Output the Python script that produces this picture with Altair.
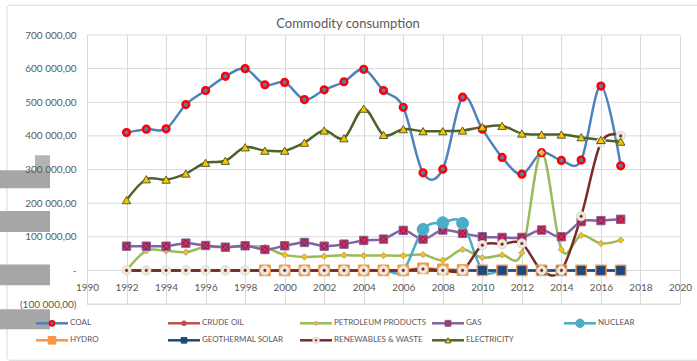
import altair as alt
import pandas as pd

years = list(range(1992, 2018))
x_ticks = list(range(1990, 2021, 2))
y_ticks = list(range(-100000, 700001, 100000))

series_names = ["COAL", "CRUDE OIL", "PETROLEUM PRODUCTS", "GAS", "NUCLEAR",
                "HYDRO", "GEOTHERMAL SOLAR", "RENEWABLES & WASTE", "ELECTRICITY"]

# None = empty cell (plotted as zero by the line, no marker)
coal = [410000, 420000, 421000, 493000, 535000, 577000, 600000, 552000, 559000, 508000,
        537000, 561000, 598000, 535000, 485000, 290000, 301000, 515000, 420000, 336000,
        286000, 350000, 327000, 328000, 548000, 311000]
crude_oil = [None] * 26
petroleum = [0, 58000, 58000, 54000, 70000, 68000, 72000, 68000, 46000, 40000,
             42000, 45000, 44000, 44000, 44000, 47000, 30000, 62000, 38000, 46000,
             52000, 350000, 62000, 104000, 80000, 90000]
gas = [72000, 72000, 72000, 81000, 74000, 69000, 73000, 62000, 73000, 83000,
       72000, 78000, 89000, 93000, 119000, 93000, 120000, 110000, 100000, 98000,
       98000, 120000, 100000, 145000, 148000, 152000]
nuclear = [None] * 15 + [122000, 142000, 140000] + [None] * 8
hydro = [None] * 7 + [0] * 8 + [6000, 3000, 1000] + [0] * 8
geothermal = [None] * 18 + [0] * 8
renewables = [0] * 15 + [4000, 0, 0] + [75000, 78000, 80000, 0, 0, 161000, 380000, 400000]
electricity = [209000, 271000, 270000, 288000, 320000, 326000, 366000, 356000, 356000, 380000,
               416000, 393000, 481000, 403000, 420000, 414000, 414000, 416000, 426000, 430000,
               407000, 404000, 404000, 396000, 388000, 383000]

values = dict(zip(series_names, [coal, crude_oil, petroleum, gas, nuclear, hydro,
                                  geothermal, renewables, electricity]))

legend_col = [0, 1, 2, 3, 4, 0, 1, 2, 3]
legend_row = [0, 0, 0, 0, 0, 1, 1, 1, 1]
title_text = "Commodity consumption"

line_colors = {
    "COAL": "#4F81BD", "CRUDE OIL": "#C0504D", "PETROLEUM PRODUCTS": "#9BBB59",
    "GAS": "#8064A2", "NUCLEAR": "#4BACC6", "HYDRO": "#F79646",
    "GEOTHERMAL SOLAR": "#1F497D", "RENEWABLES & WASTE": "#772C2A", "ELECTRICITY": "#4F6228",
}
# marker styles: list of (shape, fill, stroke, strokeWidth, size)
marker_styles = {
    "COAL": [("circle", "#4F81BD", "#FF0000", 2.5, 45)],
    "CRUDE OIL": [("circle", "#C0504D", "#C0504D", 1, 45)],
    "PETROLEUM PRODUCTS": [("diamond", "#FFC000", "#A5A5A5", 1, 40)],
    "GAS": [("square", "#C0143C", "#8064A2", 1, 70),
            ("M-1,-1L1,1M-1,1L1,-1", "#8064A2", "#8064A2", 1, 40)],
    "NUCLEAR": [("circle", "#4BACC6", "#4BACC6", 1, 140)],
    "HYDRO": [("square", "#F79646", "#F79646", 1, 115)],
    "GEOTHERMAL SOLAR": [("square", "#1F497D", "#1F497D", 1, 64)],
    "RENEWABLES & WASTE": [("circle", "#EEECE1", "#DDD9C3", 1, 85),
                           ("circle", "#772C2A", "#772C2A", 0.5, 7)],
    "ELECTRICITY": [("triangle-up", "#FFC000", "#4F6228", 1, 70)],
}

W, H = 593, 269
FONT = "Lato"
GRID = "#D9D9D9"
TXT = "#595959"

xs = alt.Scale(domain=[1990, 2020], nice=False, zero=False)
ys = alt.Scale(domain=[-100000, 700000], nice=False, zero=False)

label_expr = (
    "datum.value == 0 ? '-\u00a0\u00a0\u00a0' : "
    "(datum.value < 0 ? '(' + replace(replace(format(-datum.value, ',.2f'), ',', ' '), '.', ',') + ')' : "
    "replace(replace(format(datum.value, ',.2f'), ',', ' '), '.', ',') + '\u00a0')"
)

x_axis = alt.Axis(values=x_ticks, format="d", grid=True, gridColor=GRID, domainColor=GRID,
                  ticks=False, labelPadding=-22, labelColor=TXT, labelFont=FONT,
                  labelFontSize=10, labelFlush=False, labelOverlap=False, title=None)
y_axis = alt.Axis(values=y_ticks, labelExpr=label_expr, grid=False,
                  domainColor=GRID, ticks=False, labelPadding=11, labelColor=TXT,
                  labelFont=FONT, labelFontSize=10, labelOverlap=False, title=None,
                  zindex=1)

menc = dict(x=alt.X("year:Q", scale=xs, axis=x_axis),
            y=alt.Y("value:Q", scale=ys, axis=y_axis))

# horizontal gridlines from the tick list
hgrid = alt.Chart(pd.DataFrame({"value": y_ticks})).mark_rule(
    color=GRID, strokeWidth=1).encode(y=alt.Y("value:Q", scale=ys, axis=y_axis))

line_layers = []
point_layers = []
for name in series_names:
    full = pd.DataFrame({"year": years, "value": values[name]})
    line_df = full.fillna(0)
    pt_df = full.dropna()
    line_layers.append(
        alt.Chart(line_df).mark_line(interpolate="cardinal", tension=0, strokeWidth=2.5,
                                     color=line_colors[name]).encode(**menc)
    )
    if len(pt_df) == 0:
        continue
    for shape, fill, stroke, sw, size in marker_styles[name]:
        is_path = shape.startswith("M")
        point_layers.append(
            alt.Chart(pt_df).mark_point(shape=shape, filled=not is_path, fill=fill,
                                        stroke=stroke, strokeWidth=sw, size=size, opacity=1)
            .encode(**menc)
        )

main = alt.layer(hgrid, *line_layers, *point_layers)

# legend built from the same series list
leg_df = pd.DataFrame({"series": series_names, "col": legend_col, "row": legend_row})
lxs = alt.Scale(domain=[0, 4], range=[-51, 477])
lys = alt.Scale(domain=[0, 1], range=[288.3, 305.3])
lenc = dict(x=alt.X("col:Q", scale=lxs, axis=None), y=alt.Y("row:Q", scale=lys, axis=None))
legend_layers = []
for name in series_names:
    d = leg_df[leg_df.series == name]
    legend_layers.append(
        alt.Chart(d).mark_rule(strokeWidth=2.5, color=line_colors[name], x2Offset=32)
        .encode(x2="col:Q", **lenc)
    )
    for shape, fill, stroke, sw, size in marker_styles[name]:
        is_path = shape.startswith("M")
        legend_layers.append(
            alt.Chart(d).mark_point(shape=shape, filled=not is_path, fill=fill, stroke=stroke,
                                    strokeWidth=min(sw, 2), size=size * 0.5, opacity=1,
                                    xOffset=16).encode(**lenc)
        )
    legend_layers.append(
        alt.Chart(d).mark_text(align="left", baseline="middle", dx=34, font=FONT,
                               fontSize=8, color=TXT).encode(text="series:N", **lenc)
    )
legend = alt.layer(*legend_layers)

# decorative frame, title and grey blocks present in the picture
dec = alt.Chart(pd.DataFrame({"k": [0]}))
border = dec.mark_rect(fill="white", fillOpacity=0, stroke=GRID, strokeWidth=1,
                       cornerRadius=3).encode(
    x=alt.value(-80), x2=alt.value(620), y=alt.value(-29.7), y2=alt.value(325.3))
title = dec.mark_text(align="center", baseline="alphabetic", font=FONT, fontSize=13,
                      color=TXT).encode(x=alt.value(261), y=alt.value(-7.5),
                                        text=alt.value(title_text))
blocks = []
for (bx, by, bx2, by2, col) in [(-87, 135.3, -37, 153.3, "#A6A6A6"),
                                 (-52, 120.3, -37, 135.3, "#B4B4B4"),
                                 (-87, 176.0, -37, 197.0, "#A6A6A6"),
                                 (-87, 229.6, -37, 250.3, "#A6A6A6"),
                                 (-87, 274.3, -37, 294.3, "#A6A6A6")]:
    blocks.append(dec.mark_rect(color=col).encode(
        x=alt.value(bx), x2=alt.value(bx2), y=alt.value(by), y2=alt.value(by2)))

chart = alt.layer(border, *blocks, title, main, legend).resolve_scale(
    x="independent", y="independent"
).properties(
    width=W, height=H,
    padding={"left": 87, "top": 35, "right": 17, "bottom": 57},
    autosize=alt.AutoSizeParams(type="none"),
    background="white",
).configure_view(strokeWidth=0)

chart.save("out.html", embed_options={"renderer": "svg", "actions": False})
